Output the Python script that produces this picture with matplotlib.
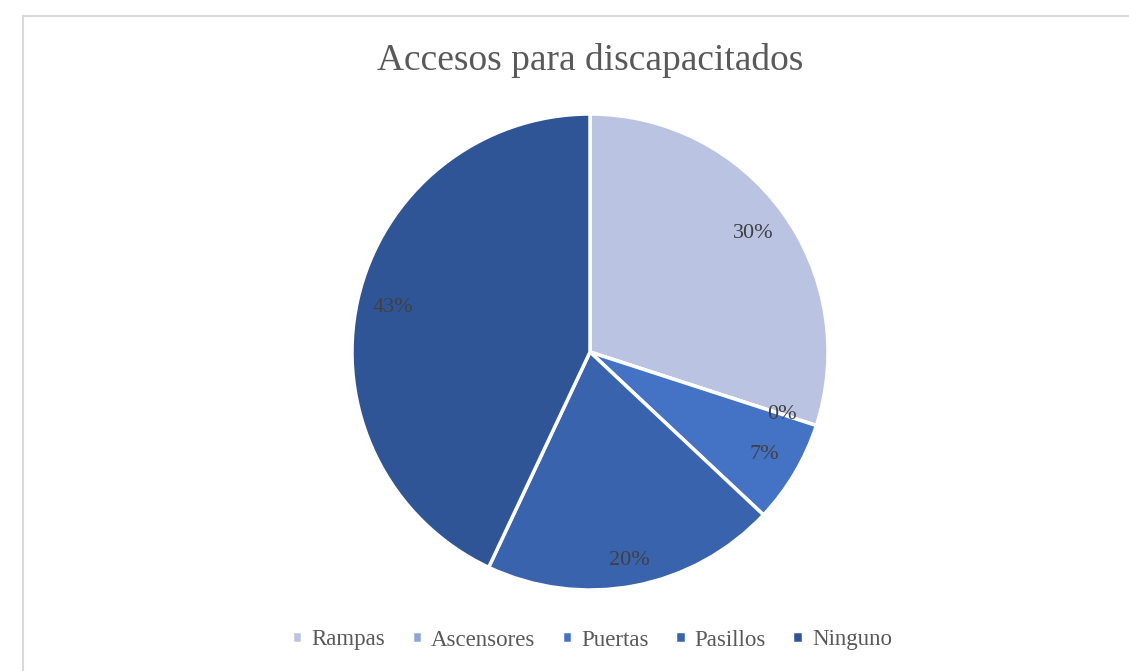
import matplotlib.pyplot as plt
import matplotlib.patches as mpatches

categorias = ['Rampas', 'Ascensores', 'Puertas', 'Pasillos', 'Ninguno']
porcentajes = [30, 0, 7, 20, 43]
colores = ['#BAC4E2', '#8FA5D8', '#4472C4', '#3A63AD', '#2F5597']

plt.rcParams['font.family'] = ['Liberation Serif', 'DejaVu Serif']

fig = plt.figure(figsize=(11.29, 6.71), dpi=100)
# marco gris del area del grafico
fig.patches.append(mpatches.Rectangle((23/1129, -0.1), 1.2, 1 - 16/671 + 0.1,
                                      transform=fig.transFigure, fill=False,
                                      edgecolor='#D9D9D9', linewidth=1.5))

ax = fig.add_axes([(590-238)/1129, 1-(352+238)/671, 476/1129, 476/671])
wedges, textos, pcts = ax.pie(porcentajes, colors=colores, startangle=90, counterclock=False,
                              autopct='%.0f%%', pctdistance=0.85,
                              wedgeprops=dict(edgecolor='white', linewidth=2.5),
                              textprops=dict(color='#404040', fontsize=16))
# etiqueta de Pasillos un poco mas afuera
x, y = pcts[3].get_position()
pcts[3].set_position((x * 0.89 / 0.85, y * 0.89 / 0.85))
ax.set_xlim(-1, 1)
ax.set_ylim(-1, 1)
ax.set_aspect('equal')

fig.text(590/1129, 1-61/671, 'Accesos para discapacitados', ha='center', va='center',
         fontsize=27, color='#595959')

ax.legend(wedges, categorias, loc='center', bbox_to_anchor=(592/1129, 1-640/671),
          bbox_transform=fig.transFigure, ncol=5, frameon=False, fontsize=16.5,
          handlelength=0.45, handleheight=0.45, handletextpad=0.4, columnspacing=1.15,
          labelcolor='#595959')

fig.savefig('out.png', dpi=100)
